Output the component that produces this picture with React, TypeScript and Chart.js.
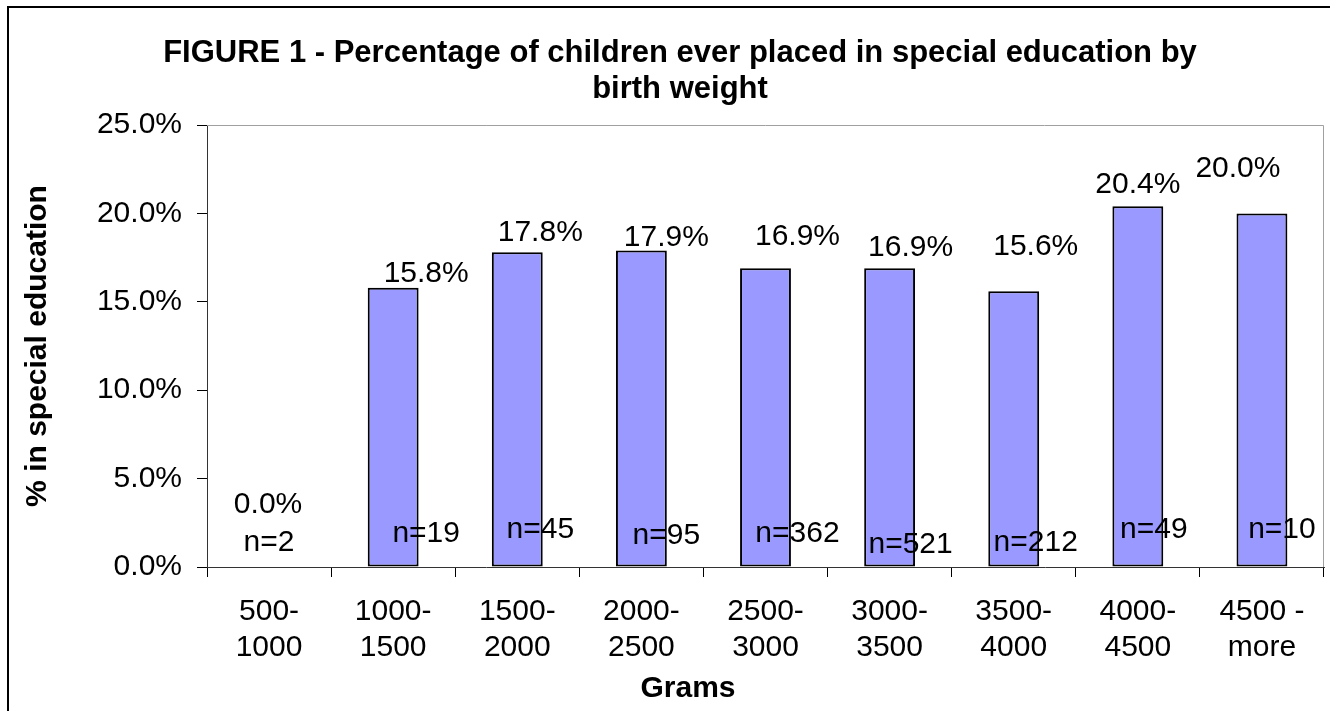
import React, { useEffect, useRef } from "react";
import { Chart, registerables } from "chart.js";

Chart.register(...registerables);

// ---- data ----
const categories: string[][] = [
  ["500-", "1000"],
  ["1000-", "1500"],
  ["1500-", "2000"],
  ["2000-", "2500"],
  ["2500-", "3000"],
  ["3000-", "3500"],
  ["3500-", "4000"],
  ["4000-", "4500"],
  ["4500 -", "more"],
];
const percentValues: number[] = [0.0, 15.8, 17.8, 17.9, 16.9, 16.9, 15.6, 20.4, 20.0];
const sampleSizes: number[] = [2, 19, 45, 95, 362, 521, 212, 49, 10];
const yTickValues: number[] = [0, 5, 10, 15, 20, 25];
const titleLines: string[] = [
  "FIGURE 1 - Percentage of children ever placed in special education by",
  "birth weight",
];
const xAxisTitle = "Grams";
const yAxisTitle = "% in special education";

// ---- label placement (pixel offsets from bar centre / bar top, and from baseline) ----
const pctLabelOffsets: number[][] = [
  [-1, -65], [33, -16], [23, -22], [25, -15], [32, -34], [21, -23], [22, -47], [0, -24], [-24, -47],
];
const nLabelOffsets: number[][] = [
  [0, -27], [33, -36], [23, -40], [25, -34], [32, -36], [21, -25], [22, -27], [16, -40], [20, -40],
];

const FONT = '"Liberation Sans", Arial, Helvetica, sans-serif';

const annotationsPlugin = {
  id: "annotations",
  afterDraw(chart: any) {
    const ctx: CanvasRenderingContext2D = chart.ctx;
    const { left, right, top, bottom } = chart.chartArea;
    ctx.save();

    // plot area top / right border (grey)
    ctx.strokeStyle = "#a0a0a0";
    ctx.lineWidth = 1;
    ctx.beginPath();
    ctx.moveTo(left, Math.round(top) + 0.5);
    ctx.lineTo(Math.round(right) - 0.5, Math.round(top) + 0.5);
    ctx.lineTo(Math.round(right) - 0.5, bottom);
    ctx.stroke();

    // outer chart border
    ctx.strokeStyle = "#000";
    ctx.lineWidth = 2;
    ctx.strokeRect(8, 7, 1400, 800);

    ctx.fillStyle = "#000";
    ctx.textAlign = "center";
    ctx.textBaseline = "alphabetic";

    // title
    ctx.font = `bold 31px ${FONT}`;
    ctx.fillText(titleLines[0], 680, 62);
    ctx.fillText(titleLines[1], 680, 98);

    // x axis title
    ctx.font = `bold 30px ${FONT}`;
    ctx.fillText(xAxisTitle, 688, 697);

    // data labels
    const meta = chart.getDatasetMeta(0);
    const yScale = chart.scales.y;
    const base = yScale.getPixelForValue(0);
    const fs = 30;
    const capHalf = fs * 0.716 / 2;
    ctx.font = `${fs}px ${FONT}`;
    meta.data.forEach((bar: any, i: number) => {
      const topPx = yScale.getPixelForValue(percentValues[i]);
      const [pdx, pdy] = pctLabelOffsets[i];
      ctx.fillText(percentValues[i].toFixed(1) + "%", bar.x + pdx, topPx + pdy + capHalf);
      const [ndx, ndy] = nLabelOffsets[i];
      ctx.fillText("n=" + sampleSizes[i], bar.x + ndx, base + ndy + capHalf);
    });

    ctx.restore();
  },
};

export default function App() {
  const canvasRef = useRef<HTMLCanvasElement | null>(null);

  useEffect(() => {
    const canvas = canvasRef.current;
    if (!canvas) return;
    const chart = new Chart(canvas, {
      type: "bar",
      data: {
        labels: categories,
        datasets: [
          {
            data: percentValues,
            backgroundColor: "#9999FF",
            borderColor: "#000000",
            borderWidth: 2,
            borderSkipped: false,
            barPercentage: 0.41,
            categoryPercentage: 1,
          },
        ],
      },
      options: {
        responsive: false,
        animation: false,
        devicePixelRatio: 1,
        layout: { padding: { top: 125, right: 6, left: 0, bottom: 0 } },
        plugins: {
          legend: { display: false },
          title: { display: false },
          tooltip: { enabled: false },
        },
        scales: {
          x: {
            type: "category",
            offset: true,
            grid: {
              display: true,
              drawOnChartArea: false,
              drawTicks: true,
              tickLength: 10,
              color: "#000",
              offset: true,
            },
            border: { display: true, color: "#333", width: 1 },
            ticks: {
              color: "#000",
              font: { family: FONT, size: 30, lineHeight: 1.2 },
              padding: 17,
              maxRotation: 0,
              minRotation: 0,
              autoSkip: false,
            },
            afterFit: (scale: any) => {
              scale.height = 144;
            },
          },
          y: {
            type: "linear",
            min: 0,
            max: 25,
            grid: {
              display: true,
              drawOnChartArea: false,
              drawTicks: true,
              tickLength: 10,
              color: "#000",
            },
            border: { display: true, color: "#333", width: 1 },
            ticks: {
              color: "#000",
              font: { family: FONT, size: 30 },
              padding: 15,
              callback: (v: any) => Number(v).toFixed(1) + "%",
            },
            afterBuildTicks: (scale: any) => {
              scale.ticks = yTickValues.map((v) => ({ value: v }));
            },
            title: {
              display: true,
              text: yAxisTitle,
              color: "#000",
              font: { family: FONT, size: 30, weight: "bold", lineHeight: 1.2 },
              padding: { top: 20, bottom: 0 },
            },
            afterFit: (scale: any) => {
              scale.width = 207;
            },
          },
        },
      },
      plugins: [annotationsPlugin],
    });
    return () => chart.destroy();
  }, []);

  return (
    <div style={{ position: "fixed", left: 0, top: 0, width: 1330, height: 711, background: "#fff" }}>
      <canvas ref={canvasRef} width={1330} height={711} style={{ width: 1330, height: 711, display: "block" }} />
    </div>
  );
}
